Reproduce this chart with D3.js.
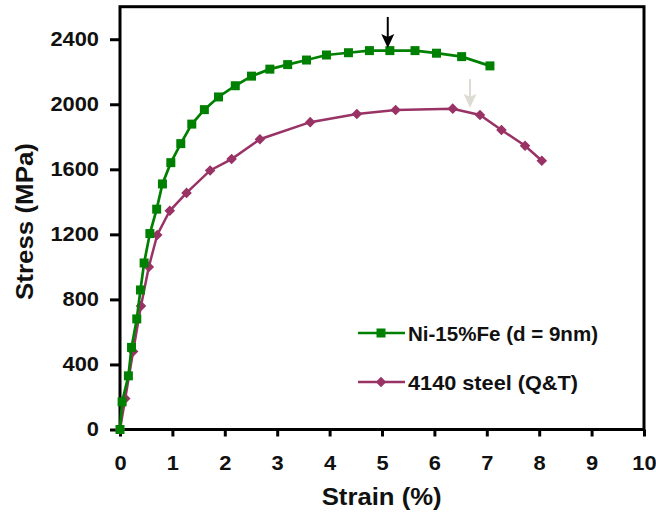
<!DOCTYPE html>
<html><head><meta charset="utf-8">
<script src="https://cdn.jsdelivr.net/npm/d3@7"></script>
<style>html,body{margin:0;padding:0;background:#fff}svg{display:block}</style>
</head><body>
<svg id="c" width="656" height="512"></svg>
<script>
// ---- data ----
const niStrain = [0,0.04,0.16,0.22,0.32,0.39,0.46,0.57,0.70,0.81,0.97,1.16,1.37,1.61,1.88,2.20,2.51,2.86,3.20,3.56,3.94,4.36,4.76,5.15,5.63,6.04,6.52,7.06];
const niStress = [0,170,330,505,680,858,1024,1205,1355,1510,1641,1758,1878,1967,2045,2114,2173,2216,2244,2272,2303,2317,2330,2330,2330,2314,2293,2236];
const stStrain = [0,0.1,0.25,0.4,0.55,0.71,0.95,1.27,1.72,2.13,2.67,3.63,4.52,5.26,6.35,6.87,7.28,7.73,8.05];
const stStress = [0,190,480,760,1000,1196,1345,1455,1593,1663,1785,1890,1940,1965,1973,1934,1842,1745,1653];
const xTicks = [0,1,2,3,4,5,6,7,8,9,10];
const yTicks = [0,400,800,1200,1600,2000,2400];
const seriesNames = ["Ni-15%Fe (d = 9nm)", "4140 steel (Q&T)"];
const xTitle = "Strain (%)";
const yTitle = "Stress (MPa)";
const arrowStrain = [5.11, 6.68];
const arrowTop = [2537, 2155];
const arrowTip = [2346, 1978];

// ---- drawing ----
const svg = d3.select("#c");
const FONT = "'Liberation Sans', Arial, sans-serif";
const GREEN = "#008000", PURPLE = "#993366";
const x = d3.scaleLinear().domain([0,10]).range([120,644]);
const y = d3.scaleLinear().domain([0,2600]).range([429.5,6.7]);

function stretch(sel, f){
  sel.each(function(){
    const w = this.getComputedTextLength();
    this.setAttribute('textLength', w*f);
    this.setAttribute('lengthAdjust','spacingAndGlyphs');
  });
}
function fitTo(sel, w){
  sel.attr('textLength', w).attr('lengthAdjust','spacingAndGlyphs');
}

const gy = svg.append('g').attr('transform','translate(120,0)')
  .call(d3.axisLeft(y).tickValues(yTicks).tickSize(10).tickPadding(11).tickFormat(d3.format('d')));
gy.select('.domain').remove();
gy.selectAll('line').attr('stroke','#000').attr('stroke-width',3);
gy.selectAll('text').attr('font-family',FONT).attr('font-weight','bold').attr('font-size',19.5).attr('fill','#111');
stretch(gy.selectAll('text'), 1.12);

const gx = svg.append('g').attr('transform','translate(0,429.5)')
  .call(d3.axisBottom(x).tickValues(xTicks).tickSize(7).tickPadding(20).tickFormat(d3.format('d')));
gx.select('.domain').remove();
gx.selectAll('line').attr('stroke','#000').attr('stroke-width',3);
gx.selectAll('text').attr('font-family',FONT).attr('font-weight','bold').attr('font-size',19.5).attr('fill','#111');
stretch(gx.selectAll('text'), 1.12);

// frame
svg.append('rect').attr('x',x(0)).attr('y',y(2600)).attr('width',x(10)-x(0)).attr('height',y(0)-y(2600))
  .attr('fill','none').attr('stroke','#000').attr('stroke-width',3);

// titles
svg.append('text').text(xTitle).attr('x',381.7).attr('y',505).attr('text-anchor','middle')
  .attr('font-family',FONT).attr('font-weight','bold').attr('font-size',23).attr('fill','#111')
  .call(fitTo,120);
svg.append('text').text(yTitle).attr('transform','translate(33,221.5) rotate(-90)').attr('text-anchor','middle')
  .attr('font-family',FONT).attr('font-weight','bold').attr('font-size',23).attr('fill','#111')
  .call(fitTo,157);

const line = d3.line().x(d=>x(d[0])).y(d=>y(d[1]));
const stData = stStrain.map((s,i)=>[s,stStress[i]]);
const niData = niStrain.map((s,i)=>[s,niStress[i]]);

const diamond = {draw(ctx,size){const r=Math.sqrt(size/2);ctx.moveTo(0,-r);ctx.lineTo(r,0);ctx.lineTo(0,r);ctx.lineTo(-r,0);ctx.closePath();}};
const diamondPath = d3.symbol(diamond, 56)();
const squarePath = d3.symbol(d3.symbolSquare, 81)();

// steel series
svg.append('path').datum(stData).attr('d',line).attr('fill','none').attr('stroke',PURPLE).attr('stroke-width',2.5);
svg.append('g').selectAll('path').data(stData).join('path')
  .attr('d',diamondPath).attr('transform',d=>`translate(${x(d[0])},${y(d[1])})`).attr('fill',PURPLE);

// Ni-Fe series
svg.append('path').datum(niData).attr('d',line).attr('fill','none').attr('stroke',GREEN).attr('stroke-width',2.7);
svg.append('g').selectAll('path').data(niData).join('path')
  .attr('d',squarePath).attr('transform',d=>`translate(${x(d[0])},${y(d[1])})`).attr('fill',GREEN);

// arrows
const arrowColors = ['#000','#dedcd2'];
arrowStrain.forEach((s,i)=>{
  const ax = x(s), top = y(arrowTop[i]), tip = y(arrowTip[i]);
  svg.append('line').attr('x1',ax).attr('x2',ax).attr('y1',top).attr('y2',tip-10)
    .attr('stroke',arrowColors[i]).attr('stroke-width',2);
  svg.append('path').attr('d',`M${ax-6.5},${tip-14}L${ax},${tip}L${ax+6.5},${tip-14}L${ax},${tip-11}Z`)
    .attr('fill',arrowColors[i]);
});

// legend
const leg = [{name:seriesNames[0],color:GREEN,sym:squarePath,ly:333,ty:340.7,w:190},
             {name:seriesNames[1],color:PURPLE,sym:diamondPath,ly:382,ty:390,w:170}];
leg.forEach(l=>{
  svg.append('line').attr('x1',358).attr('x2',405).attr('y1',l.ly).attr('y2',l.ly).attr('stroke',l.color).attr('stroke-width',2.5);
  svg.append('path').attr('d',l.sym).attr('transform',`translate(381,${l.ly})`).attr('fill',l.color);
  svg.append('text').text(l.name).attr('x',408).attr('y',l.ty)
    .attr('font-family',FONT).attr('font-weight','bold').attr('font-size',20.5).attr('fill','#111')
    .call(fitTo,l.w);
});
</script>
</body></html>
